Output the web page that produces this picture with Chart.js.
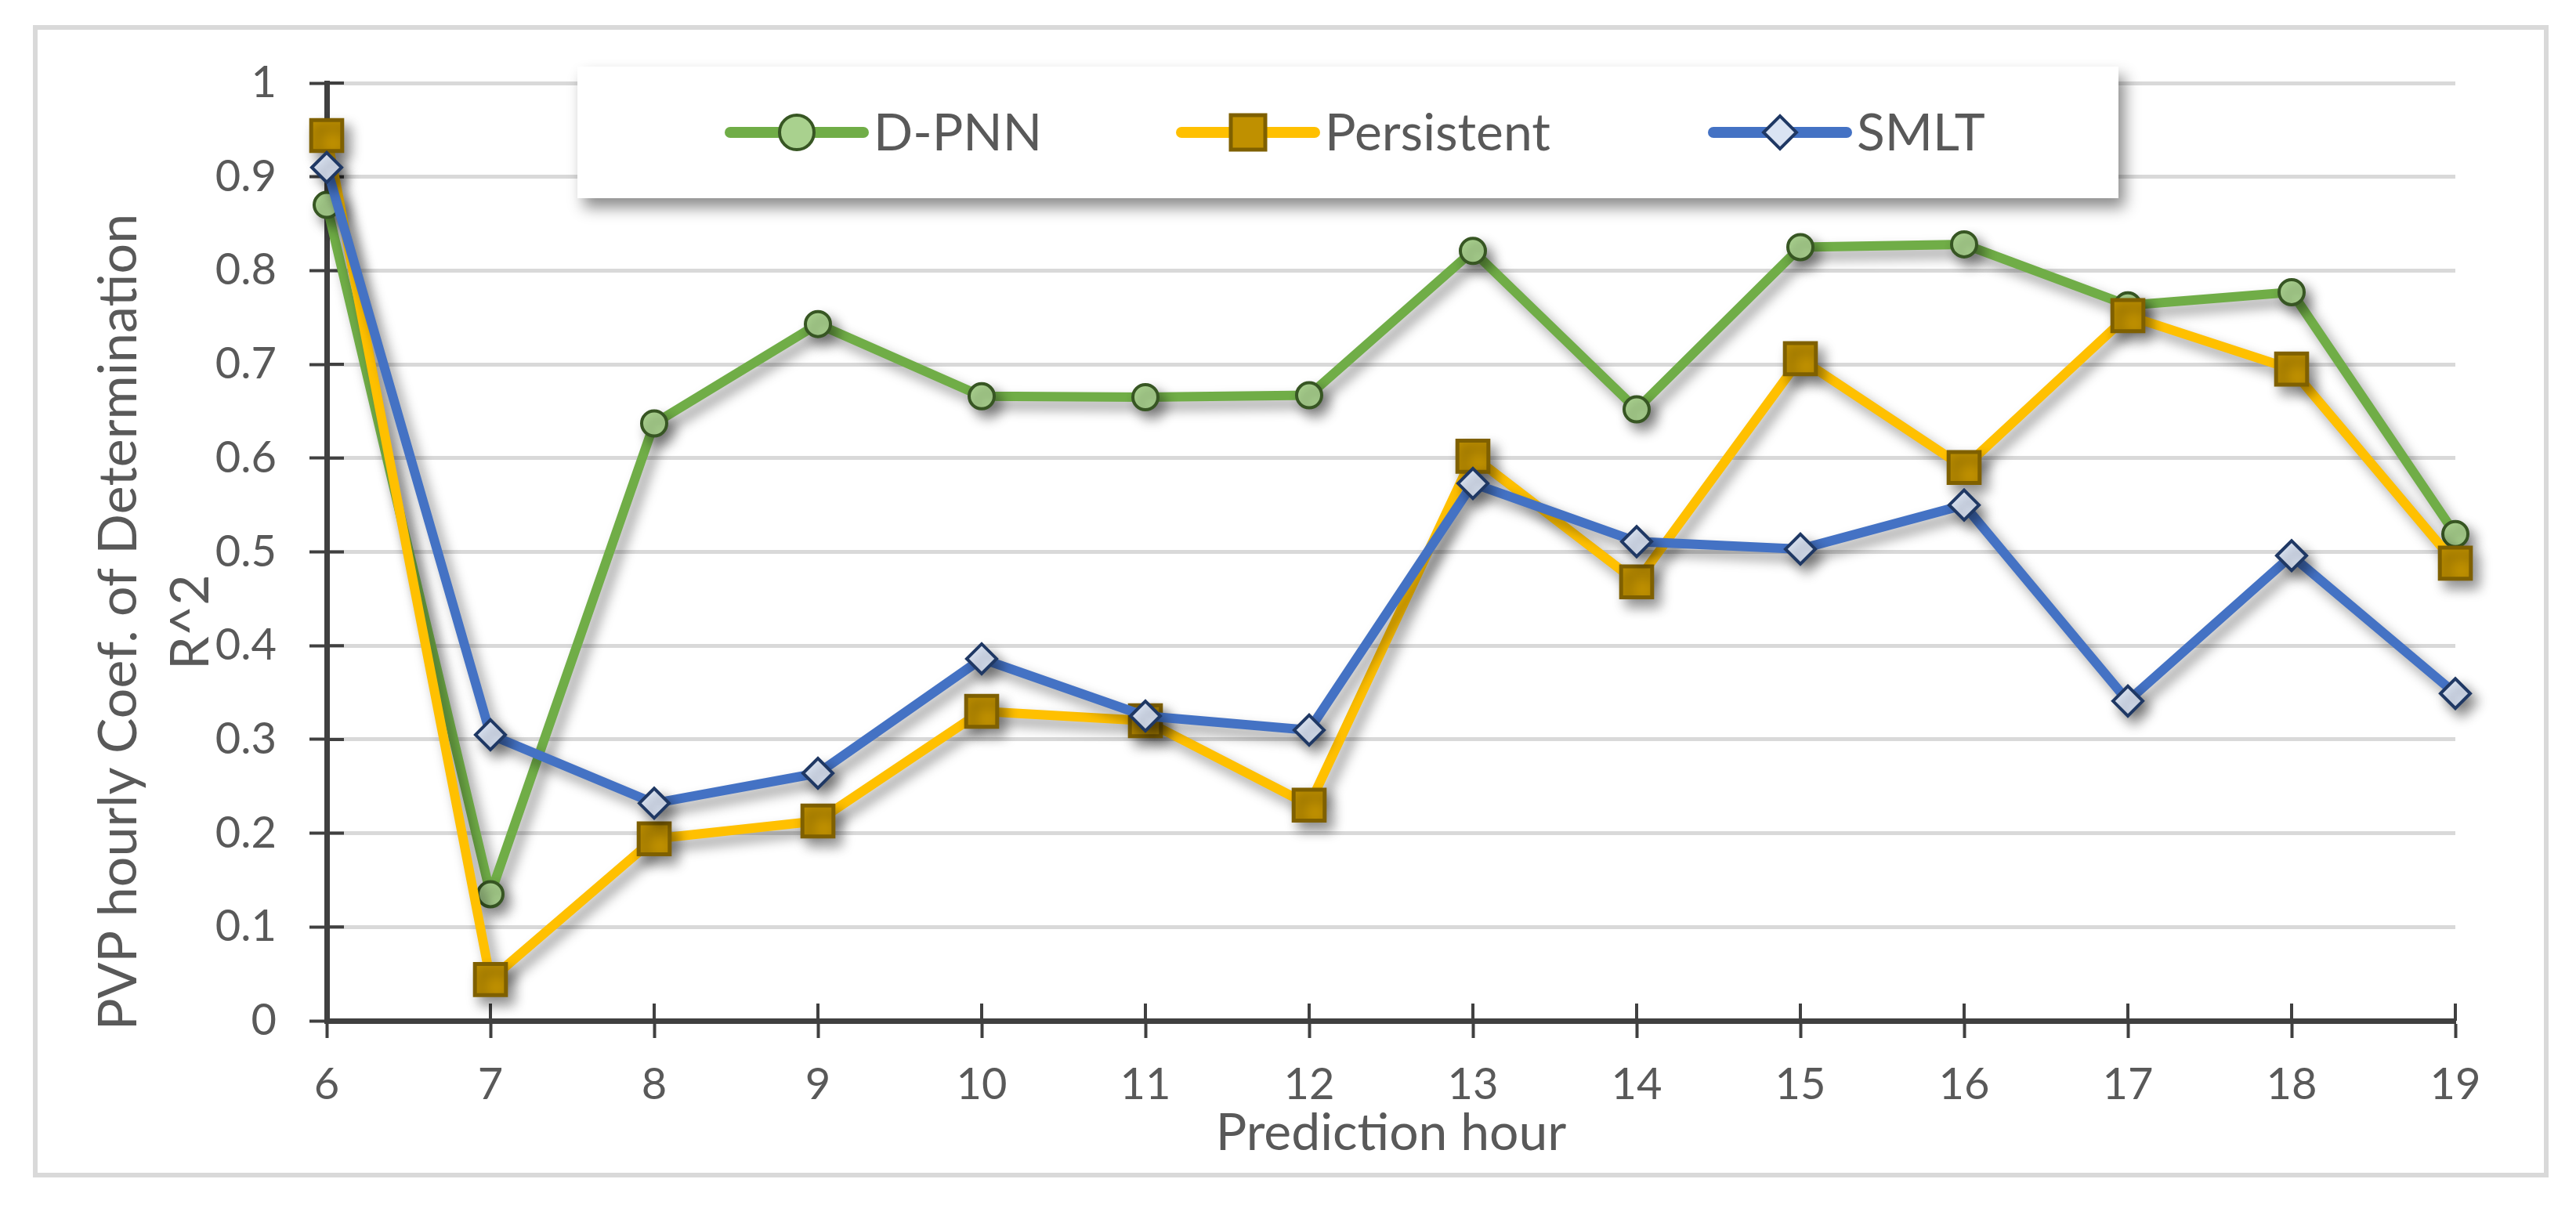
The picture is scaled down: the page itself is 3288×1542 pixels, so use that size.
<!DOCTYPE html>
<html>
<head>
<meta charset="utf-8">
<script src="https://cdn.jsdelivr.net/npm/chart.js@4.4.1/dist/chart.umd.min.js"></script>
<style>
  html, body { margin: 0; padding: 0; background: #fff; }
  #wrap { width: 3288px; height: 1542px; }
</style>
</head>
<body>
<div id="wrap"><canvas id="lines"></canvas></div>
<script>
// values
const hours = ["6", "7", "8", "9", "10", "11", "12", "13", "14", "15", "16", "17", "18", "19"];
const dpnn = [0.870, 0.135, 0.637, 0.743, 0.666, 0.665, 0.667, 0.821, 0.652, 0.825, 0.828, 0.763, 0.777, 0.519];
const persistent = [0.944, 0.044, 0.194, 0.213, 0.330, 0.320, 0.230, 0.602, 0.468, 0.706, 0.590, 0.752, 0.695, 0.488];
const smlt = [0.910, 0.305, 0.232, 0.264, 0.386, 0.325, 0.310, 0.573, 0.511, 0.503, 0.550, 0.341, 0.496, 0.349];
const yTickLabels = ["0", "0.1", "0.2", "0.3", "0.4", "0.5", "0.6", "0.7", "0.8", "0.9", "1"];
const yTitle = ["PVP hourly Coef. of Determination", "R^2"];
const xTitle = "Prediction hour";

const FONT = "Lato, 'Noto Sans', sans-serif";
const TEXT = "#595959";
const AXIS = "#404040";

Chart.defaults.font.family = FONT;
Chart.defaults.color = TEXT;

// frame round the whole picture
const framePlugin = {
  id: "frame",
  beforeDraw(chart) {
    const ctx = chart.ctx;
    ctx.save();
    ctx.fillStyle = "#fff";
    ctx.fillRect(0, 0, chart.width, chart.height);
    ctx.strokeStyle = "#d9d9d9";
    ctx.lineWidth = 6;
    ctx.strokeRect(45, 35, 3205, 1465);
    ctx.restore();
  }
};

// ticks crossing the axes + drop shadow on the series
const shadowPlugin = {
  id: "shadow",
  beforeDatasetsDraw(chart) {
    const ctx = chart.ctx;
    const area = chart.chartArea;
    const x = chart.scales.x, y = chart.scales.y;
    ctx.save();
    ctx.strokeStyle = AXIS;
    ctx.lineWidth = 4;
    ctx.beginPath();
    y.ticks.forEach((t, i) => {
      const py = y.getPixelForTick(i);
      ctx.moveTo(area.left, py);
      ctx.lineTo(area.left + 22, py);
    });
    x.ticks.forEach((t, i) => {
      const px = x.getPixelForTick(i);
      ctx.moveTo(px, area.bottom);
      ctx.lineTo(px, area.bottom - 22);
    });
    ctx.stroke();
    ctx.restore();

    ctx.save();
    ctx.shadowColor = "rgba(0,0,0,0.4)";
    ctx.shadowBlur = 16;
    ctx.shadowOffsetX = 8;
    ctx.shadowOffsetY = 10;
  },
  afterDatasetsDraw(chart) {
    chart.ctx.restore();
  }
};

// y title (two lines) and the boxed legend
const legendX = [932, 1508, 2187];
const extrasPlugin = {
  id: "extras",
  afterDraw(chart) {
    const ctx = chart.ctx;
    ctx.save();
    ctx.fillStyle = TEXT;
    ctx.font = "68px " + FONT;
    // fit the long line to the length it has in the original
    let size = 68 * 1043 / ctx.measureText(yTitle[0]).width;
    size = Math.max(58, Math.min(72, size));
    ctx.font = size.toFixed(1) + "px " + FONT;
    ctx.textAlign = "center";
    ctx.textBaseline = "alphabetic";
    ctx.translate(0, 794);
    ctx.rotate(-Math.PI / 2);
    ctx.fillText(yTitle[0], 0, 174);
    ctx.fillText(yTitle[1], 0, 266);
    ctx.restore();

    // legend
    ctx.save();
    ctx.font = "66px " + FONT;
    const sets = chart.data.datasets;
    const lineLen = 170, gapText = 13;
    const boxL = 737, boxT = 85, boxR = 2704, boxB = 253;
    ctx.save();
    ctx.shadowColor = "rgba(0,0,0,0.45)";
    ctx.shadowBlur = 18;
    ctx.shadowOffsetX = 8;
    ctx.shadowOffsetY = 12;
    ctx.fillStyle = "#fff";
    ctx.fillRect(boxL, boxT, boxR - boxL, boxB - boxT);
    ctx.restore();

    const my = 169;
    sets.forEach((ds, i) => {
      const x0 = legendX[i];
      ctx.strokeStyle = ds.borderColor;
      ctx.lineWidth = 14;
      ctx.lineCap = "round";
      ctx.beginPath();
      ctx.moveTo(x0, my);
      ctx.lineTo(x0 + lineLen, my);
      ctx.stroke();
      const mx = x0 + lineLen / 2;
      ctx.fillStyle = ds.pointBackgroundColor;
      ctx.strokeStyle = ds.pointBorderColor;
      ctx.lineWidth = ds.pointBorderWidth;
      ctx.beginPath();
      if (ds.pointStyle === "circle") {
        ctx.arc(mx, my, 22, 0, Math.PI * 2);
      } else if (ds.pointStyle === "rect") {
        ctx.rect(mx - 22, my - 22, 44, 44);
      } else {
        ctx.moveTo(mx - 21, my);
        ctx.lineTo(mx, my - 21);
        ctx.lineTo(mx + 21, my);
        ctx.lineTo(mx, my + 21);
        ctx.closePath();
      }
      ctx.fill();
      ctx.stroke();
      ctx.fillStyle = TEXT;
      ctx.textAlign = "left";
      ctx.textBaseline = "alphabetic";
      ctx.fillText(ds.label, x0 + lineLen + gapText, 192);
    });
    ctx.restore();
  }
};

const lineConfig = {
  type: "line",
  data: {
    labels: hours,
    datasets: [
      {
        label: "D-PNN",
        data: dpnn,
        order: 3,
        borderColor: "#70ad47",
        borderWidth: 12,
        pointStyle: "circle",
        pointRadius: 16,
        pointBorderWidth: 4,
        pointBackgroundColor: "#a9d18e",
        pointBorderColor: "#375623",
      },
      {
        label: "Persistent",
        data: persistent,
        order: 2,
        borderColor: "#ffc000",
        borderWidth: 12,
        pointStyle: "rect",
        pointRadius: 28,
        pointBorderWidth: 5,
        pointBackgroundColor: "#bf9000",
        pointBorderColor: "#7f6000",
      },
      {
        label: "SMLT",
        data: smlt,
        order: 1,
        borderColor: "#4472c4",
        borderWidth: 12,
        pointStyle: "rectRot",
        pointRadius: 19,
        pointBorderWidth: 4,
        pointBackgroundColor: "#dae3f3",
        pointBorderColor: "#1f3864",
      },
    ],
  },
  options: {
    responsive: true,
    maintainAspectRatio: false,
    devicePixelRatio: 1,
    animation: false,
    clip: false,
    elements: {
      line: { tension: 0, borderJoinStyle: "round", borderCapStyle: "round", fill: false },
      point: { hoverRadius: 0 },
    },
    layout: { padding: { top: 106, right: 154, left: 0, bottom: 0 } },
    plugins: {
      legend: { display: false },
      tooltip: { enabled: false },
    },
    scales: {
      x: {
        type: "category",
        offset: false,
        afterFit: (s) => { s.height = 239; },
        grid: { drawOnChartArea: false, drawTicks: true, tickLength: 22, tickColor: AXIS, tickWidth: 4 },
        border: { color: AXIS, width: 7 },
        ticks: { font: { size: 56 }, color: TEXT, padding: 26, maxRotation: 0 },
        title: { display: true, text: xTitle, font: { size: 66 }, color: TEXT, padding: { top: 0, bottom: 56 } },
      },
      y: {
        min: 0,
        max: 1,
        afterFit: (s) => { s.width = 417; },
        grid: { color: "#d9d9d9", lineWidth: 5, tickLength: 22, tickColor: AXIS, tickWidth: 4 },
        border: { color: AXIS, width: 7 },
        ticks: {
          stepSize: 0.1,
          font: { size: 56 },
          color: TEXT,
          padding: 42,
          callback: (v, i) => yTickLabels[i],
        },
      },
    },
  },
  plugins: [framePlugin, shadowPlugin, extrasPlugin],
};

const linesCtx = document.getElementById("lines");
window.myLine = new Chart(linesCtx, lineConfig);
</script>
</body>
</html>
